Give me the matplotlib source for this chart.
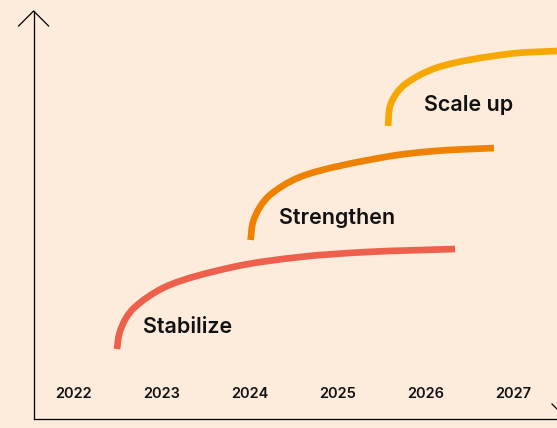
import matplotlib
matplotlib.use("Agg")
import matplotlib.pyplot as plt
import numpy as np
from matplotlib.lines import Line2D
from matplotlib.path import Path
from matplotlib.patches import PathPatch

# ---- data -------------------------------------------------------------
years = [2022, 2023, 2024, 2025, 2026, 2027]

phases = ["Stabilize", "Strengthen", "Scale up"]

stabilize_x = [2022.495, 2022.524, 2022.598, 2022.700, 2023.041,
               2023.814, 2024.575, 2025.336, 2026.336]
stabilize_y = [70, 86, 101, 112, 132, 152, 162, 167, 170]

strengthen_x = [2024.013, 2024.041, 2024.120, 2024.234, 2024.575,
                2025.541, 2026.109, 2026.779]
strengthen_y = [179, 197, 212, 224, 242, 262, 268, 271]

scaleup_x = [2025.575, 2025.598, 2025.674, 2025.788, 2026.128,
             2026.939, 2027.495, 2027.984]
scaleup_y = [293, 313, 326, 336, 351.3, 365, 368, 369.5]

# ---- style ------------------------------------------------------------
BG = "#FDEBDC"
COLORS = ["#EE5F4C", "#EE8100", "#F6A800"]
TEXT = "#111111"
FONT = ["Inter", "DejaVu Sans"]

fig = plt.figure(figsize=(5.57, 4.28), dpi=100, facecolor=BG)
ax = fig.add_axes([0, 0, 1, 1])
ax.set_facecolor(BG)
ax.set_xlim(2021.166, 2027.495)
ax.set_ylim(-9, 419)
ax.axis("off")


def smooth_path(xs, ys):
    """Centripetal Catmull-Rom curve through the points, as cubic Beziers."""
    to_disp = ax.transData
    P = to_disp.transform(np.column_stack([xs, ys]))
    ext = np.vstack([2 * P[0] - P[1], P, 2 * P[-1] - P[-2]])
    verts = [P[0]]
    codes = [Path.MOVETO]
    for i in range(1, len(ext) - 2):
        p0, p1, p2, p3 = ext[i - 1], ext[i], ext[i + 1], ext[i + 2]
        d1 = max(np.linalg.norm(p1 - p0), 1e-6) ** 0.5
        d2 = max(np.linalg.norm(p2 - p1), 1e-6) ** 0.5
        d3 = max(np.linalg.norm(p3 - p2), 1e-6) ** 0.5
        b1 = (d1**2 * p2 - d2**2 * p0 + (2 * d1**2 + 3 * d1 * d2 + d2**2) * p1) / (3 * d1 * (d1 + d2))
        b2 = (d3**2 * p1 - d2**2 * p3 + (2 * d3**2 + 3 * d3 * d2 + d2**2) * p2) / (3 * d3 * (d3 + d2))
        verts += [b1, b2, p2]
        codes += [Path.CURVE4] * 3
    verts = to_disp.inverted().transform(np.array(verts))
    return Path(verts, codes)


# growth curves
series = [(stabilize_x, stabilize_y), (strengthen_x, strengthen_y),
          (scaleup_x, scaleup_y)]
for (xs, ys), c in zip(series, COLORS):
    ax.add_patch(PathPatch(smooth_path(xs, ys), fill=False, edgecolor=c,
                           lw=4.8, capstyle="butt", joinstyle="round",
                           transform=ax.transData))

# phase labels
label_pos = [(2022.79, 92), (2024.34, 201), (2025.98, 314)]
for name, (lx, ly) in zip(phases, label_pos):
    ax.text(lx, ly, name, ha="left", va="center", fontsize=15.5,
            fontweight="semibold", color=TEXT, family=FONT)

# year labels along the bottom
for y in years:
    ax.text(y, 25, str(y), ha="center", va="center", fontsize=10.5,
            fontweight="semibold", color=TEXT, family=FONT)

# axes drawn as arrows (figure-fraction coordinates)
W, H = 557.0, 428.0
def fx(px):
    return px / W
def fy(py):
    return 1 - py / H

ax_x, ax_top, ax_bot = 33.6, 11, 419
kw = dict(color="black", lw=0.9, transform=fig.transFigure)
fig.add_artist(Line2D([fx(ax_x), fx(ax_x)], [fy(ax_top), fy(ax_bot)], **kw))
fig.add_artist(Line2D([fx(ax_x - 15), fx(ax_x), fx(ax_x + 15)],
                      [fy(ax_top + 15), fy(ax_top), fy(ax_top + 15)], **kw))
tip = 567
fig.add_artist(Line2D([fx(ax_x), fx(tip)], [fy(ax_bot), fy(ax_bot)], **kw))
fig.add_artist(Line2D([fx(tip - 15), fx(tip), fx(tip - 15)],
                      [fy(ax_bot - 15), fy(ax_bot), fy(ax_bot + 15)], **kw))

fig.savefig("out.png", dpi=100, facecolor=BG)
